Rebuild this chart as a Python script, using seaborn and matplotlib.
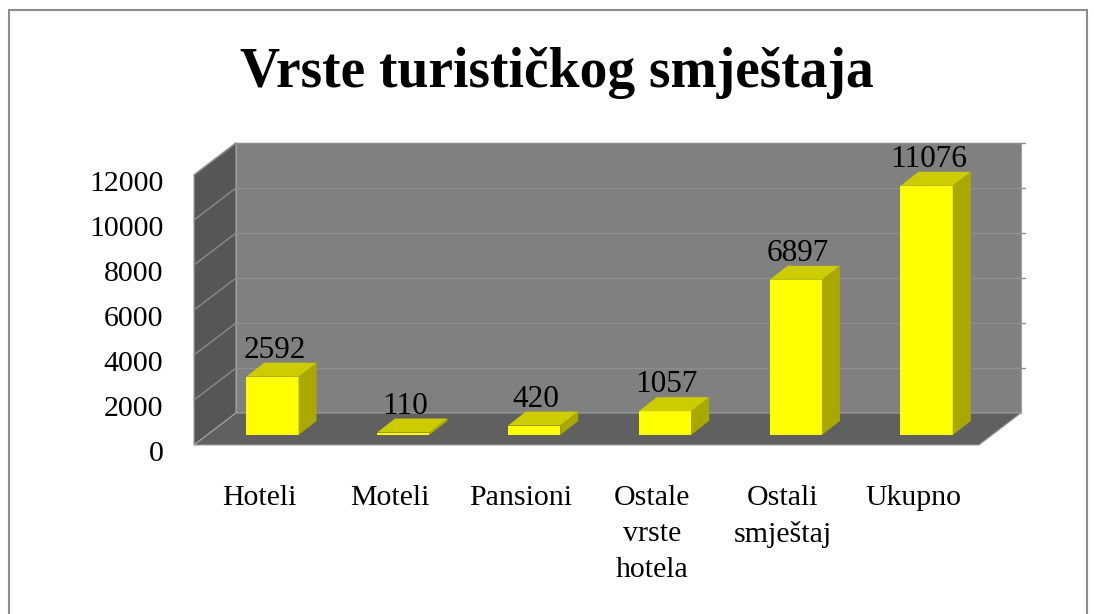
"""Pseudo-3D column chart: Vrste turističkog smještaja."""

import matplotlib

matplotlib.use("Agg")
import matplotlib.pyplot as plt
import pandas as pd
import seaborn as sns
from matplotlib.patches import Polygon, Rectangle
from matplotlib.transforms import ScaledTranslation

categories = ["Hoteli", "Moteli", "Pansioni", "Ostale\nvrste\nhotela", "Ostali\nsmještaj", "Ukupno"]
values = [2592, 110, 420, 1057, 6897, 11076]
y_ticks = [0, 2000, 4000, 6000, 8000, 10000, 12000]
title = "Vrste turističkog smještaja"

W, H, DPI = 1094, 614, 100
YMAX = 12000

sns.set_theme(style="white")
plt.rcParams["font.family"] = ["Liberation Serif", "DejaVu Serif"]
plt.rcParams["text.color"] = "black"

fig = plt.figure(figsize=(W / DPI, H / DPI), dpi=DPI)
fig.patch.set_facecolor("white")

# axes = front plane of the columns, in pixels of the reference
left, right, top, bottom = 207, 992, 165, 435
ax = fig.add_axes([left / W, 1 - bottom / H, (right - left) / W, (bottom - top) / H])

df = pd.DataFrame({"kategorija": categories, "broj": values})
sns.barplot(data=df, x="kategorija", y="broj", color="#FFFF00", saturation=1,
            width=0.4, edgecolor="none", ax=ax, zorder=3)
bars = list(ax.patches)

ax.set_xlim(-0.5, len(categories) - 0.5)
ax.set_ylim(0, YMAX)
ax.patch.set_visible(False)
sns.despine(ax=ax, left=True, bottom=True)

# pixel -> data unit factors
ux = (len(categories)) / (right - left)
uy = YMAX / (bottom - top)

xl, xr = -0.5, len(categories) - 0.5
fdx, fdy = -13 * ux, -10 * uy   # front edge of floor
bdx, bdy = 29 * ux, 22 * uy     # back wall
cdx, cdy = 18 * ux, 14 * uy     # column depth

edge = "#a0a0a0"
# back wall
ax.add_patch(Polygon([(xl + bdx, bdy), (xr + bdx, bdy), (xr + bdx, YMAX + bdy), (xl + bdx, YMAX + bdy)],
                     closed=True, facecolor="#808080", edgecolor=edge, lw=0.8, clip_on=False, zorder=0.5))
# left side wall
ax.add_patch(Polygon([(xl + fdx, fdy), (xl + bdx, bdy), (xl + bdx, YMAX + bdy), (xl + fdx, YMAX + fdy)],
                     closed=True, facecolor="#565656", edgecolor=edge, lw=0.8, clip_on=False, zorder=0.5))
# floor
ax.add_patch(Polygon([(xl + fdx, fdy), (xr + fdx, fdy), (xr + bdx, bdy), (xl + bdx, bdy)],
                     closed=True, facecolor="#606060", edgecolor=edge, lw=0.8, clip_on=False, zorder=0.6))

for v in y_ticks[1:]:
    ax.plot([xl + bdx, xr + bdx + 4 * ux], [v + bdy, v + bdy], color="#8e8e8e", lw=1,
            clip_on=False, zorder=0.7)
    ax.plot([xl + fdx, xl + bdx], [v + fdy, v + bdy], color="#8a8a8a", lw=1,
            clip_on=False, zorder=0.7)

# 3D faces of the columns and the value labels
for p, v in zip(bars, values):
    x0, w, h = p.get_x(), p.get_width(), p.get_height()
    ax.add_patch(Polygon([(x0 + w, 0), (x0 + w + cdx, cdy), (x0 + w + cdx, h + cdy), (x0 + w, h)],
                         closed=True, facecolor="#A8A800", edgecolor="none", zorder=3, clip_on=False))
    ax.add_patch(Polygon([(x0, h), (x0 + w, h), (x0 + w + cdx, h + cdy), (x0 + cdx, h + cdy)],
                         closed=True, facecolor="#CCCC00", edgecolor="none", zorder=3, clip_on=False))
    ax.annotate(f"{v}", (x0 + w / 2, h), xytext=(2, 19), textcoords="offset pixels",
                ha="center", va="baseline", fontsize=22.5, color="black", zorder=4)

ax.set_xticks(range(len(categories)))
ax.set_xticklabels(categories, fontsize=21.5, linespacing=1.5)
ax.set_yticks(y_ticks)
ax.set_yticklabels([str(t) for t in y_ticks], fontsize=21.5)
ax.set_xlabel("")
ax.set_ylabel("")
ax.tick_params(axis="x", length=0, pad=36, colors="black")
ax.tick_params(axis="y", length=0, pad=31.5, colors="black")

for lab in ax.get_xticklabels():
    lab.set_transform(lab.get_transform() + ScaledTranslation(-13 / DPI, 0, fig.dpi_scale_trans))
for lab in ax.get_yticklabels():
    lab.set_transform(lab.get_transform() + ScaledTranslation(0, -16 / DPI, fig.dpi_scale_trans))

fig.text(557 / W, 1 - 87 / H, title, ha="center", va="baseline", fontsize=40,
         fontweight="bold", color="black")

fig.add_artist(Rectangle((9 / W, -0.05), (1087 - 9) / W, 1.05 - 10 / H, transform=fig.transFigure,
                         fill=False, edgecolor="#8c8c8c", lw=1.5))

fig.savefig("out.png", dpi=DPI)
plt.close(fig)
